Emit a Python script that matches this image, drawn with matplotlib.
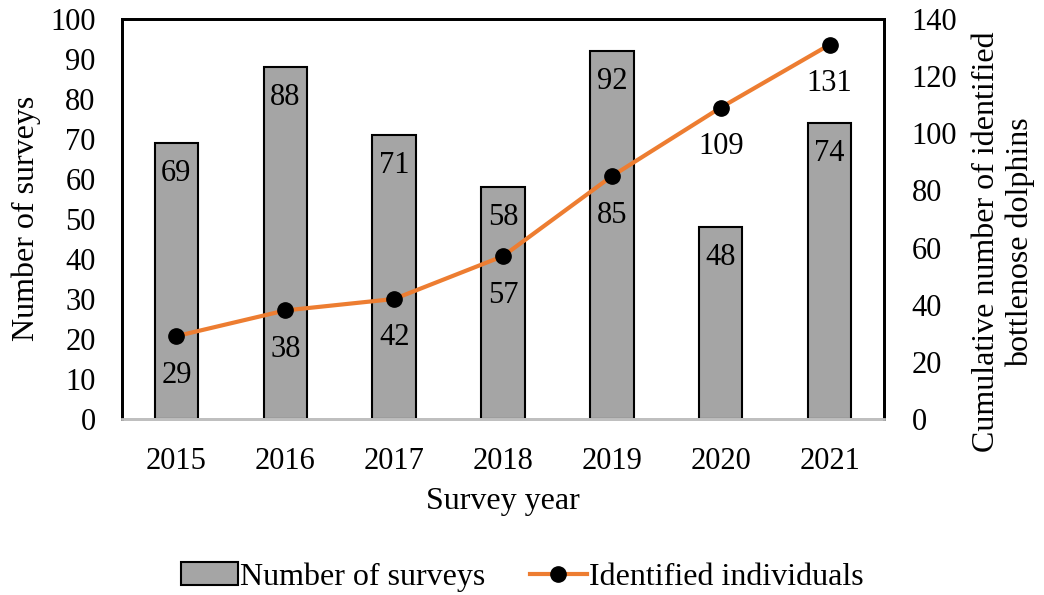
import numpy as np
import matplotlib
matplotlib.use('Agg')
import matplotlib.pyplot as plt
from matplotlib.patches import Patch
from matplotlib.lines import Line2D

years = ['2015', '2016', '2017', '2018', '2019', '2020', '2021']
surveys = [69, 88, 71, 58, 92, 48, 74]
identified = [29, 38, 42, 57, 85, 109, 131]

plt.rcParams['font.family'] = ['Liberation Serif', 'DejaVu Serif']
FS = 22
LFS = 23

W, H = 1044, 595
fig = plt.figure(figsize=(W/100, H/100), dpi=100)
ax = fig.add_axes([122/W, 1 - 419/H, (884-122)/W, (419-19)/H])
ax2 = ax.twinx()

x = np.arange(len(years))
ax.bar(x, surveys, width=0.4, color='#A5A5A5', edgecolor='black', linewidth=1.5, zorder=2)
for xi, v in zip(x, surveys):
    ax.annotate(str(v), (xi, v), xytext=(0, -22), textcoords='offset points',
                ha='center', va='center', fontsize=FS)
ax.set_ylim(0, 100)
ax.set_xlim(-0.5, len(years) - 0.5)
ax.set_yticks(range(0, 101, 10))
ax.set_xticks(x)
ax.set_xticklabels(years)
ax.tick_params(length=0, labelsize=FS, pad=19)
ax.tick_params(axis='x', pad=20)
ax.set_xlabel('Survey year', fontsize=LFS, labelpad=8)

ax2.plot(x, identified, color='#ED7D31', linewidth=3, marker='o', markersize=11,
         markerfacecolor='black', markeredgecolor='black', zorder=3)
for xi, v in zip(x, identified):
    ax2.annotate(str(v), (xi, v), xytext=(0, -28), textcoords='offset points',
                 ha='center', va='center', fontsize=FS)
ax2.set_ylim(0, 140)
ax2.set_yticks(range(0, 141, 20))
ax2.tick_params(length=0, labelsize=FS, pad=20)

fig.text(26/W, 1 - 218/H, 'Number of surveys', rotation=90, ha='center', va='center',
         fontsize=LFS)
fig.text(1004/W, 1 - 242/H, 'Cumulative number of identified\nbottlenose dolphins',
         rotation=90, ha='center', va='center', fontsize=LFS, linespacing=1.2,
         multialignment='center')

for a in (ax, ax2):
    for s in ('top', 'left', 'right'):
        a.spines[s].set_color('black')
        a.spines[s].set_linewidth(2)
    a.spines['bottom'].set_color('#BFBFBF')
    a.spines['bottom'].set_linewidth(2)

handles = [Patch(facecolor='#A5A5A5', edgecolor='black', linewidth=1.5),
           Line2D([], [], color='#ED7D31', linewidth=3, marker='o', markersize=11,
                  markerfacecolor='black', markeredgecolor='black')]
fig.legend(handles, ['Number of surveys', 'Identified individuals'],
           loc='center', bbox_to_anchor=(0.5, 1 - 577/H), ncol=2, frameon=False,
           fontsize=LFS, handlelength=1.8, handletextpad=0.05, columnspacing=1.4)

fig.savefig('out.png', dpi=100)
